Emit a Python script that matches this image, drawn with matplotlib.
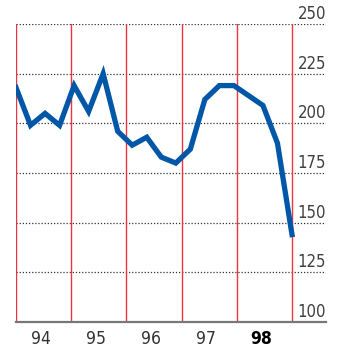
import numpy as np
import matplotlib.pyplot as plt

# quarterly index, 1994 - 1998
years = ['94', '95', '96', '97', '98']
index = [218, 199, 205, 199, 219, 206, 225, 196, 189, 193,
         183, 180, 187, 212, 219, 219, 214, 209, 190, 144]
yticks = [100, 125, 150, 175, 200, 225, 250]

plt.rcParams['font.family'] = ['DejaVu Sans']
plt.rcParams['font.stretch'] = 'condensed'

x = np.linspace(94, 99, len(index))
xmax = 99 + 34 / 55.2

fig = plt.figure(figsize=(3.4, 3.52), dpi=100)
ax = fig.add_axes([16 / 340, 30 / 352, 310 / 340, 298 / 352])
ax.set_xlim(94, xmax)
ax.set_ylim(100, 250)

# dotted horizontal grid + labels sitting on top of the lines
for v in yticks:
    if v > 100:
        ax.axhline(v, color='#333333', lw=0.9, ls=(0, (1, 1.5)), zorder=1)
    ax.text(xmax, v + 2.6, str(v), ha='right', va='baseline',
            fontsize=12, color='#404040')

# year separators
for yr in range(94, 100):
    ax.axvline(yr, color='#ee3340', lw=1.0, zorder=1)

ax.plot(x, index, color='#0057a8', lw=3.8, solid_joinstyle='miter', zorder=3)

for i, lab in enumerate(years):
    ax.text(94 + i + 0.45, 96, lab, ha='center', va='top', fontsize=12.5,
            color='black' if lab == '98' else '#333333',
            fontweight='bold' if lab == '98' else 'normal')

for s in ['top', 'right', 'left']:
    ax.spines[s].set_visible(False)
ax.spines['bottom'].set_color('#777777')
ax.spines['bottom'].set_linewidth(1.6)
ax.set_xticks([])
ax.set_yticks([])

fig.savefig('out.png', dpi=100)
